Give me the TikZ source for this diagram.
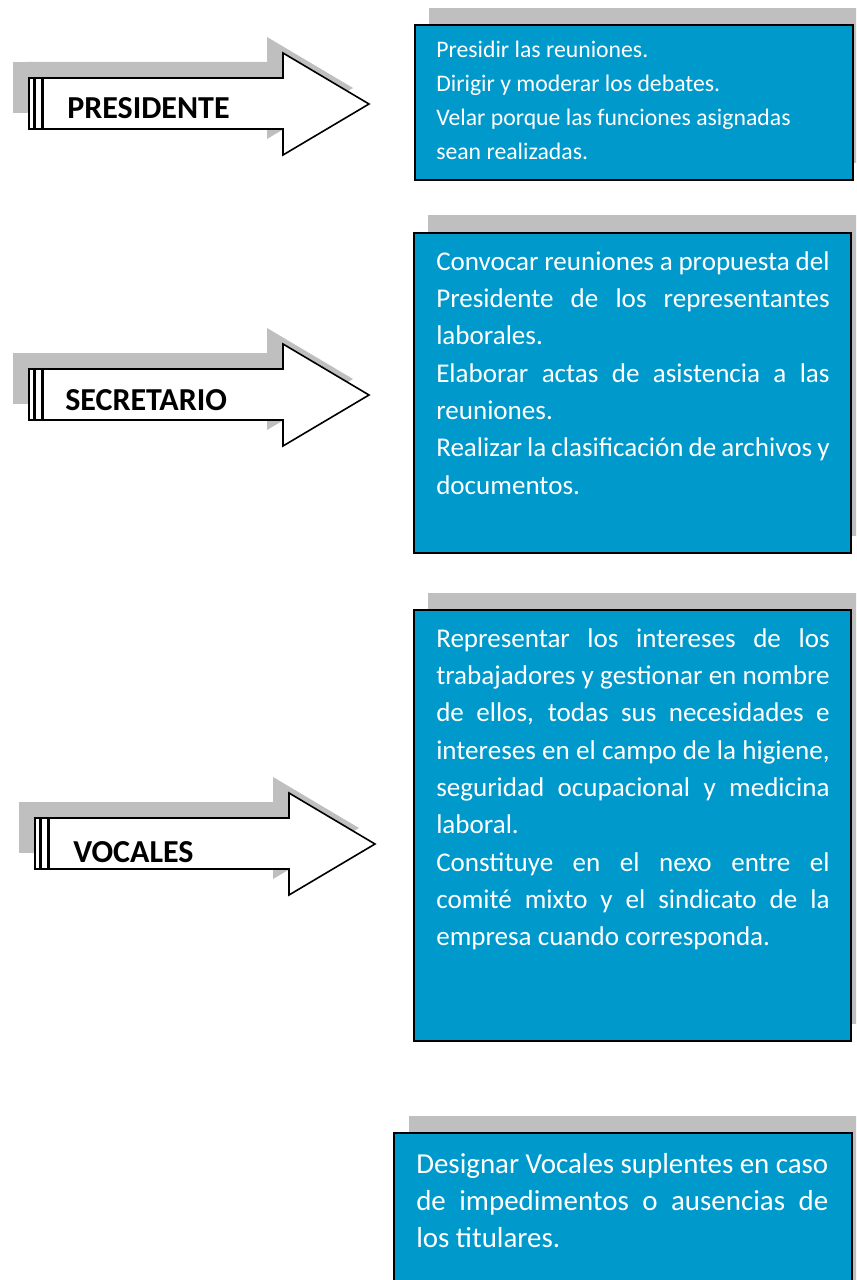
\documentclass[tikz,border=0pt]{standalone}
\usepackage{fontspec}
\setmainfont{Carlito}
\definecolor{boxblue}{RGB}{0,153,204}
\definecolor{shadowgray}{RGB}{191,191,191}

\begin{document}
\begin{tikzpicture}[x=0.75pt, y=-0.75pt,
    arrowshadow/.style={fill=shadowgray, draw=none},
    arrowbody/.style={fill=white, draw=black, line width=1.2pt, line join=miter},
    rolelabel/.style={anchor=base west, inner sep=0pt, font=\fontsize{24}{28}\selectfont\bfseries},
    boxshadow/.style={fill=shadowgray, draw=none},
    funcbox/.style={fill=boxblue, draw=black, line width=1.5pt},
    functext/.style={anchor=base west, inner sep=0pt, text=white, text width=295pt, align=justify, font=\fontsize{20.3}{28}\selectfont}]
\useasboundingbox (0,0) rectangle (856,1280);
\clip (0,0) rectangle (856,1280);

% arrows
\begin{scope}
  \fill[arrowshadow] (13,62) rectangle (27,113);
  \fill[arrowshadow] (27,62) -- (267,62) -- (267,37) -- (353,88) -- (267,139) -- (267,113) -- (27,113) -- cycle;
  \draw[arrowbody] (29,78) rectangle (34,129);
  \draw[arrowbody] (35,78) rectangle (42,129);
  \draw[arrowbody] (43,78) -- (283,78) -- (283,53) -- (369,104) -- (283,155) -- (283,129) -- (43,129) -- cycle;
  \node[rolelabel] (presidente) at (67,119) {PRESIDENTE};
\end{scope}
\begin{scope}[shift={(0,291)}]
  \fill[arrowshadow] (13,62) rectangle (27,113);
  \fill[arrowshadow] (27,62) -- (267,62) -- (267,37) -- (353,88) -- (267,139) -- (267,113) -- (27,113) -- cycle;
  \draw[arrowbody] (29,78) rectangle (34,129);
  \draw[arrowbody] (35,78) rectangle (42,129);
  \draw[arrowbody] (43,78) -- (283,78) -- (283,53) -- (369,104) -- (283,155) -- (283,129) -- (43,129) -- cycle;
  \node[rolelabel] (secretario) at (65,119) {SECRETARIO};
\end{scope}
\begin{scope}[shift={(6,740)}]
  \fill[arrowshadow] (13,62) rectangle (27,113);
  \fill[arrowshadow] (27,62) -- (267,62) -- (267,37) -- (353,88) -- (267,139) -- (267,113) -- (27,113) -- cycle;
  \draw[arrowbody] (29,78) rectangle (34,129);
  \draw[arrowbody] (35,78) rectangle (42,129);
  \draw[arrowbody] (43,78) -- (283,78) -- (283,53) -- (369,104) -- (283,155) -- (283,129) -- (43,129) -- cycle;
  \node[rolelabel] (vocales) at (67,122) {VOCALES};
\end{scope}

% boxes
\fill[boxshadow] (429,8) rectangle (867,163);
\draw[funcbox] (415,25) rectangle (853,180);
\node[functext, align=flush left, text width=300pt, font=\fontsize{17.8}{25.3}\selectfont] (presfunc) at (436,58)
  {Presidir las reuniones.\\
   Dirigir y moderar los debates.\\
   Velar porque las funciones asignadas\\
   sean realizadas.};

\fill[boxshadow] (428,215) rectangle (865,536);
\draw[funcbox] (414,233) rectangle (851,553);
\node[functext] (secfunc) at (436,270)
  {Convocar reuniones a propuesta del\linebreak
   Presidente de los representantes\linebreak
   laborales.\\
   Elaborar actas de asistencia a las\linebreak
   reuniones.\\
   Realizar la clasificación de archivos y\linebreak
   documentos.};

\fill[boxshadow] (428,593) rectangle (865,1024);
\draw[funcbox] (414,610) rectangle (851,1041);
\node[functext] (vocfunc) at (436,647)
  {Representar los intereses de los\linebreak
   trabajadores y gestionar en nombre\linebreak
   de ellos, todas sus necesidades e\linebreak
   intereses en el campo de la higiene,\linebreak
   seguridad ocupacional y medicina\linebreak
   laboral.\\
   Constituye en el nexo entre el\linebreak
   comité mixto y el sindicato de la\linebreak
   empresa cuando corresponda.};

\fill[boxshadow] (409,1116) rectangle (866,1300);
\draw[funcbox] (394,1133) rectangle (852,1300);
\node[functext, text width=309pt, font=\fontsize{21.7}{27.8}\selectfont] (suplfunc) at (416,1173)
  {Designar Vocales suplentes en caso\linebreak
   de impedimentos o ausencias de\linebreak
   los titulares.};
\end{tikzpicture}
\end{document}
